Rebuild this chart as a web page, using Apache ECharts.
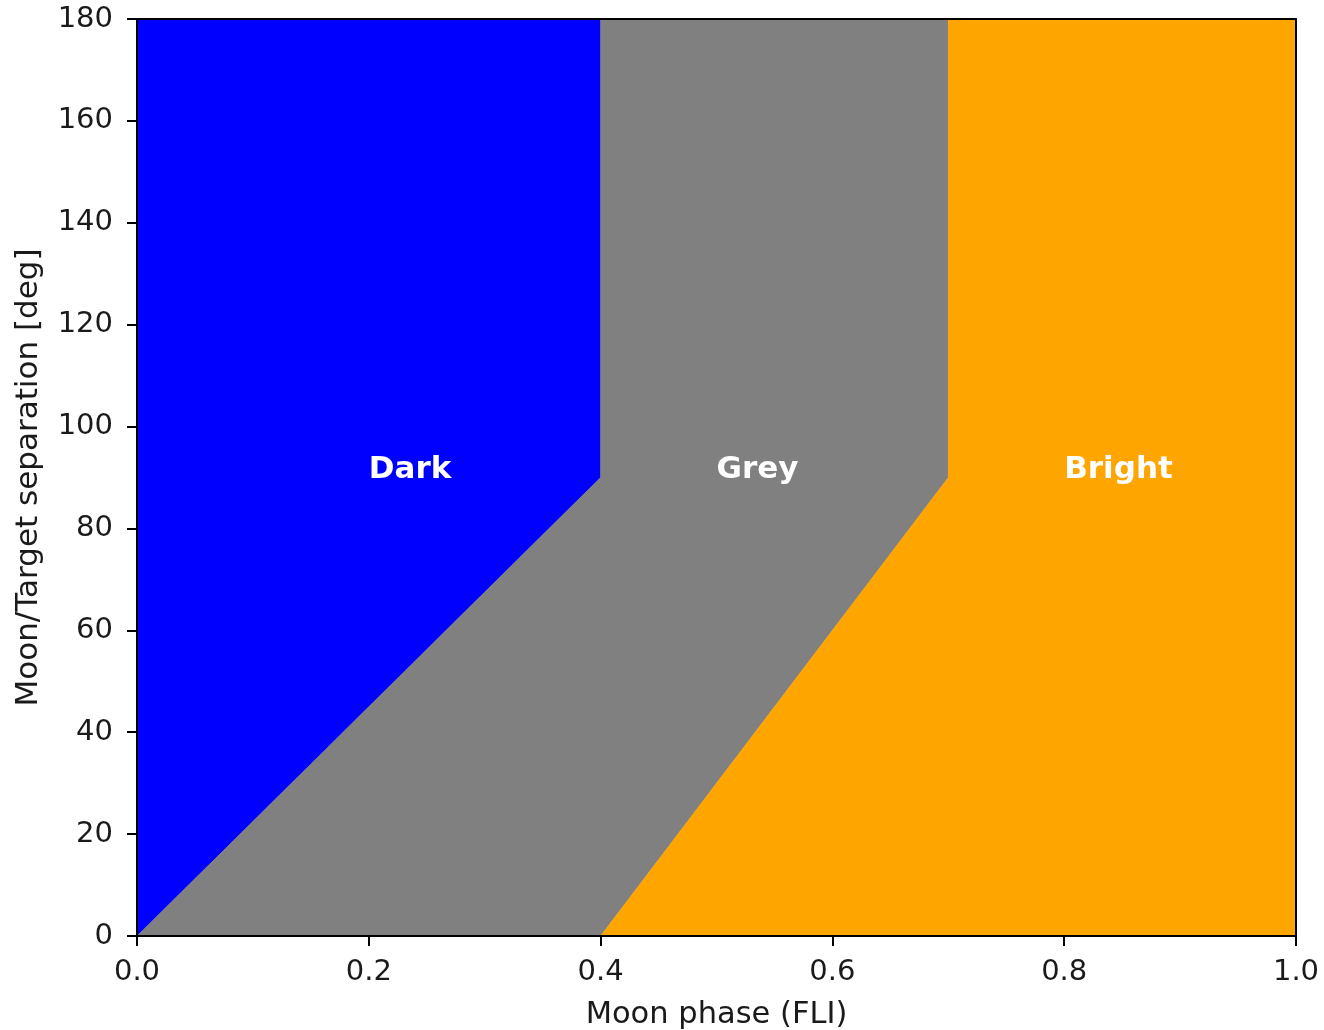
<!DOCTYPE html>
<html>
<head>
<meta charset="utf-8">
<script src="https://cdn.jsdelivr.net/npm/echarts@6/dist/echarts.min.js"></script>
<style>
  html, body { margin: 0; padding: 0; background: #fff; }
  #chart { width: 1324px; height: 1030px; }
</style>
</head>
<body>
<div id="chart"></div>
<script>
// Sky-brightness classes as polygons in (FLI, separation) space
const darkRegion = [[0, 0], [0.4, 90], [0.4, 180], [0, 180]];
const greyRegion = [[0, 0], [0.4, 0], [0.7, 90], [0.7, 180], [0.4, 180], [0.4, 90]];
const brightRegion = [[0.4, 0], [1, 0], [1, 180], [0.7, 180], [0.7, 90]];

const regionNames = ['Dark', 'Grey', 'Bright'];
const regionColors = ['#0000ff', '#808080', '#ffa500'];
const labelAnchors = [[0.2, 90], [0.5, 90], [0.8, 90]];

const xTicks = [0, 0.2, 0.4, 0.6, 0.8, 1.0];
const yTicks = [0, 20, 40, 60, 80, 100, 120, 140, 160, 180];

const FONT = '"DejaVu Sans", sans-serif';

function polygonSeries(name, points, color) {
  return {
    name: name,
    type: 'custom',
    coordinateSystem: 'cartesian2d',
    data: [0],
    silent: true,
    z: 2,
    renderItem: function (params, api) {
      return {
        type: 'polygon',
        shape: { points: points.map(p => api.coord(p)) },
        style: { fill: color, stroke: color, lineWidth: 0.5 }
      };
    }
  };
}

const labelSeries = {
  type: 'custom',
  coordinateSystem: 'cartesian2d',
  data: labelAnchors.map((p, i) => [p[0], p[1], i]),
  silent: true,
  z: 5,
  renderItem: function (params, api) {
    const pt = api.coord([api.value(0), api.value(1)]);
    return {
      type: 'text',
      x: pt[0],
      y: pt[1] - 8,
      style: {
        text: regionNames[api.value(2)],
        fill: '#ffffff',
        font: 'bold 31px ' + FONT,
        align: 'left',
        verticalAlign: 'middle'
      }
    };
  }
};

const axisLineStyle = { color: '#000', width: 2 };

const chart = echarts.init(document.getElementById('chart'), null, { renderer: 'canvas' });
chart.setOption({
  animation: false,
  backgroundColor: '#ffffff',
  grid: { left: 137, right: 28, top: 19, bottom: 94, containLabel: false, outerBoundsMode: 'none' },
  xAxis: [{
    type: 'value',
    min: 0, max: 1, interval: 0.2,
    z: 10,
    name: 'Moon phase (FLI)',
    nameLocation: 'middle',
    nameGap: 64,
    nameTextStyle: { fontFamily: FONT, fontSize: 30.5, color: '#1a1a1a' },
    axisLine: { show: true, onZero: false, lineStyle: axisLineStyle },
    axisTick: { show: true, inside: false, length: 10, lineStyle: axisLineStyle },
    axisLabel: {
      fontFamily: FONT, fontSize: 29, color: '#1a1a1a', margin: 22,
      formatter: v => (xTicks.some(t => Math.abs(t - v) < 1e-9) ? v.toFixed(1) : '')
    },
    splitLine: { show: false }
  }, {
    type: 'value',
    position: 'top',
    min: 0, max: 1,
    z: 10,
    axisLine: { show: true, onZero: false, lineStyle: axisLineStyle },
    axisTick: { show: false },
    axisLabel: { show: false },
    splitLine: { show: false }
  }],
  yAxis: [{
    type: 'value',
    min: 0, max: 180, interval: 20,
    z: 10,
    name: 'Moon/Target separation [deg]',
    nameLocation: 'middle',
    nameGap: 93,
    nameTextStyle: { fontFamily: FONT, fontSize: 31, color: '#1a1a1a' },
    axisLine: { show: true, onZero: false, lineStyle: axisLineStyle },
    axisTick: { show: true, inside: false, length: 10, lineStyle: axisLineStyle },
    axisLabel: {
      fontFamily: FONT, fontSize: 29, color: '#1a1a1a', margin: 24,
      formatter: v => (yTicks.includes(v) ? String(v) : '')
    },
    splitLine: { show: false }
  }, {
    type: 'value',
    position: 'right',
    min: 0, max: 180,
    z: 10,
    axisLine: { show: true, onZero: false, lineStyle: axisLineStyle },
    axisTick: { show: false },
    axisLabel: { show: false },
    splitLine: { show: false }
  }],
  series: [
    polygonSeries('Dark', darkRegion, regionColors[0]),
    polygonSeries('Grey', greyRegion, regionColors[1]),
    polygonSeries('Bright', brightRegion, regionColors[2]),
    labelSeries
  ]
});
</script>
</body>
</html>
